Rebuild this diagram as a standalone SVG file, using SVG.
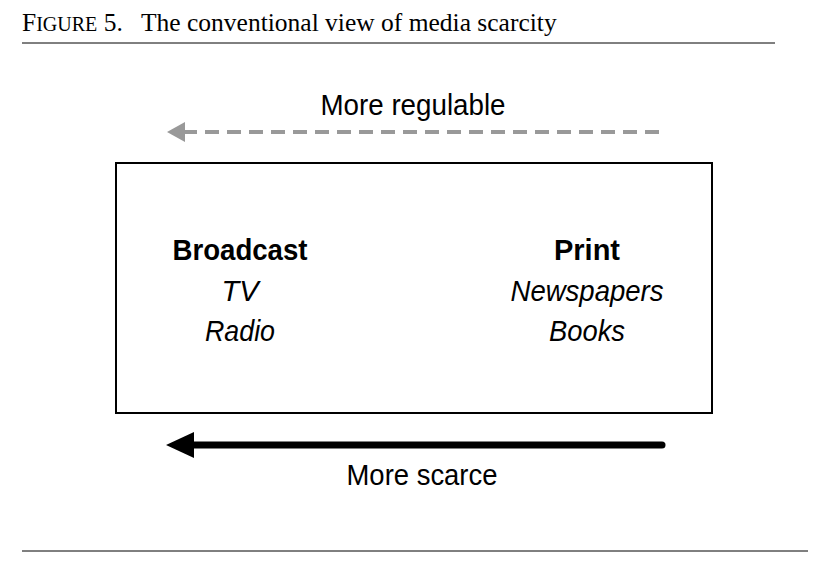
<svg xmlns="http://www.w3.org/2000/svg" width="821" height="576" viewBox="0 0 821 576">
<style>
.t{font-family:"Liberation Serif",serif;fill:#000}
.s{font-family:"Liberation Sans",Arial,sans-serif;font-size:29px;text-anchor:middle;fill:#000}
.b{font-weight:bold}
.i{font-style:italic}
</style>
<rect width="821" height="576" fill="#fff"/>
<text class="t" x="22" y="31" font-size="25.5">F<tspan font-size="20">IGURE</tspan> 5.<tspan x="141">The conventional view of media scarcity</tspan></text>
<line x1="22" y1="43" x2="775" y2="43" stroke="#000" stroke-width="1"/>
<line x1="22" y1="551" x2="808" y2="551" stroke="#000" stroke-width="1"/>
<g id="connectors">
<line x1="659" y1="132" x2="184" y2="132" stroke="#999" stroke-width="4" stroke-dasharray="14 8"/>
<polygon points="167,132 185,122 185,142" fill="#999"/>
<line x1="662" y1="445" x2="190" y2="445" stroke="#000" stroke-width="7" stroke-linecap="round"/>
<polygon points="166,445 194,432 194,458" fill="#000"/>
<text class="s" x="413" y="115" textLength="185" lengthAdjust="spacingAndGlyphs">More regulable</text>
<text class="s" x="422" y="485" textLength="151" lengthAdjust="spacingAndGlyphs">More scarce</text>
</g>
<g id="box">
<rect x="116" y="163" width="596" height="250" fill="none" stroke="#000" stroke-width="2"/>
</g>
<g id="broadcast">
<text class="s b" x="240" y="260" textLength="135" lengthAdjust="spacingAndGlyphs">Broadcast</text>
<text class="s i" x="240" y="301">TV</text>
<text class="s i" x="240" y="341" textLength="70" lengthAdjust="spacingAndGlyphs">Radio</text>
</g>
<g id="print">
<text class="s b" x="587" y="260">Print</text>
<text class="s i" x="587" y="301" textLength="153" lengthAdjust="spacingAndGlyphs">Newspapers</text>
<text class="s i" x="587" y="341" textLength="76" lengthAdjust="spacingAndGlyphs">Books</text>
</g>
</svg>
